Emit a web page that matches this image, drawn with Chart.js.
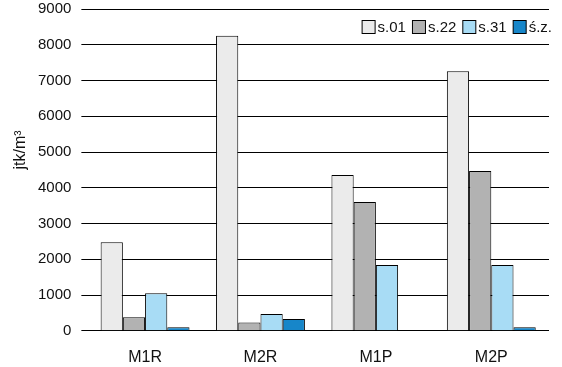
<!DOCTYPE html>
<html>
<head>
<meta charset="utf-8">
<script src="https://cdn.jsdelivr.net/npm/chart.js@4/dist/chart.umd.min.js"></script>
<style>
  html, body { margin: 0; padding: 0; background: #fff; }
</style>
</head>
<body>
<canvas id="myChart" width="562" height="367"></canvas>
<script>
const categories = ["M1R", "M2R", "M1P", "M2P"];
const seriesNames = ["s.01", "s.22", "s.31", "ś.z."];
const s01 = [2480, 8250, 4360, 7260];
const s22 = [380, 230, 3600, 4470];
const s31 = [1050, 470, 1840, 1840];
const sz = [100, 330, 0, 100];
const yTicks = [0, 1000, 2000, 3000, 4000, 5000, 6000, 7000, 8000, 9000];
const yTitle = "jtk/m³";

const colorPalette = {
  light: "#ebebeb",
  grey: "#b2b2b2",
  sky: "#a8dcf5",
  blue: "#1786c9"
};

const fontName = "'Liberation Sans', Arial, sans-serif";

function makeSet(label, values, color) {
  return {
    label: label,
    data: values,
    backgroundColor: color,
    borderColor: "#000",
    borderWidth: 1,
    categoryPercentage: 0.77,
    barPercentage: 1.0
  };
}

// Legend drawn inside the plot, top right, tight like the original
const insideLegend = {
  id: "insideLegend",
  afterDraw(chart) {
    const ctx = chart.ctx;
    const area = chart.chartArea;
    const box = 14, gapText = 2, gapItem = 6;
    ctx.save();
    ctx.font = "15px " + fontName;
    const items = chart.data.datasets.map((ds) => ({
      label: ds.label,
      color: ds.backgroundColor,
      w: ctx.measureText(ds.label).width
    }));
    let total = 0;
    items.forEach((it, i) => {
      total += box + gapText + it.w + (i < items.length - 1 ? gapItem : 0);
    });
    let x = area.right + 3 - total;
    const top = area.top + 11;
    items.forEach((it) => {
      ctx.fillStyle = it.color;
      ctx.fillRect(x + 0.5, top + 0.5, box - 1, box - 1);
      ctx.strokeStyle = "#000";
      ctx.lineWidth = 1;
      ctx.strokeRect(x + 0.5, top + 0.5, box - 1, box - 1);
      x += box + gapText;
      ctx.fillStyle = "#111";
      ctx.textBaseline = "middle";
      ctx.textAlign = "left";
      ctx.fillText(it.label, x, top + box / 2 + 1);
      x += it.w + gapItem;
    });
    ctx.restore();
  }
};

// y title sits a bit above the middle of the axis in the original
const sideTitle = {
  id: "sideTitle",
  afterDraw(chart) {
    const ctx = chart.ctx;
    ctx.save();
    ctx.translate(21, 150);
    ctx.rotate(-Math.PI / 2);
    ctx.font = "16px " + fontName;
    ctx.fillStyle = "#111";
    ctx.textAlign = "center";
    ctx.textBaseline = "middle";
    ctx.fillText(yTitle, 0, 0);
    ctx.restore();
  }
};

new Chart("myChart", {
  type: "bar",
  data: {
    labels: categories,
    datasets: [
      makeSet(seriesNames[0], s01, colorPalette.light),
      makeSet(seriesNames[1], s22, colorPalette.grey),
      makeSet(seriesNames[2], s31, colorPalette.sky),
      makeSet(seriesNames[3], sz, colorPalette.blue)
    ]
  },
  plugins: [insideLegend, sideTitle],
  options: {
    responsive: false,
    animation: false,
    layout: { padding: { left: 38, right: 13, top: 2, bottom: 0 } },
    plugins: {
      tooltip: { enabled: false },
      legend: { display: false }
    },
    scales: {
      x: {
        grid: {
          display: true,
          drawOnChartArea: false,
          drawTicks: true,
          tickLength: 17,
          tickColor: "rgba(0,0,0,0)"
        },
        border: { display: false },
        ticks: {
          color: "#111",
          padding: 0,
          font: { family: fontName, size: 16 }
        }
      },
      y: {
        min: 0,
        max: 9000,
        afterBuildTicks: (axis) => {
          axis.ticks = yTicks.map((v) => ({ value: v }));
        },
        grid: {
          color: "#000",
          lineWidth: 1,
          drawTicks: true,
          tickLength: 16,
          tickColor: "#000",
          // gridlines run a few px left of the first bar group
          tickBorderDash: [0, 10, 6, 0]
        },
        border: { display: false },
        ticks: {
          color: "#111",
          padding: 0,
          font: { family: fontName, size: 15 },
          callback: (v) => String(v)
        }
      }
    }
  }
});
</script>
</body>
</html>
